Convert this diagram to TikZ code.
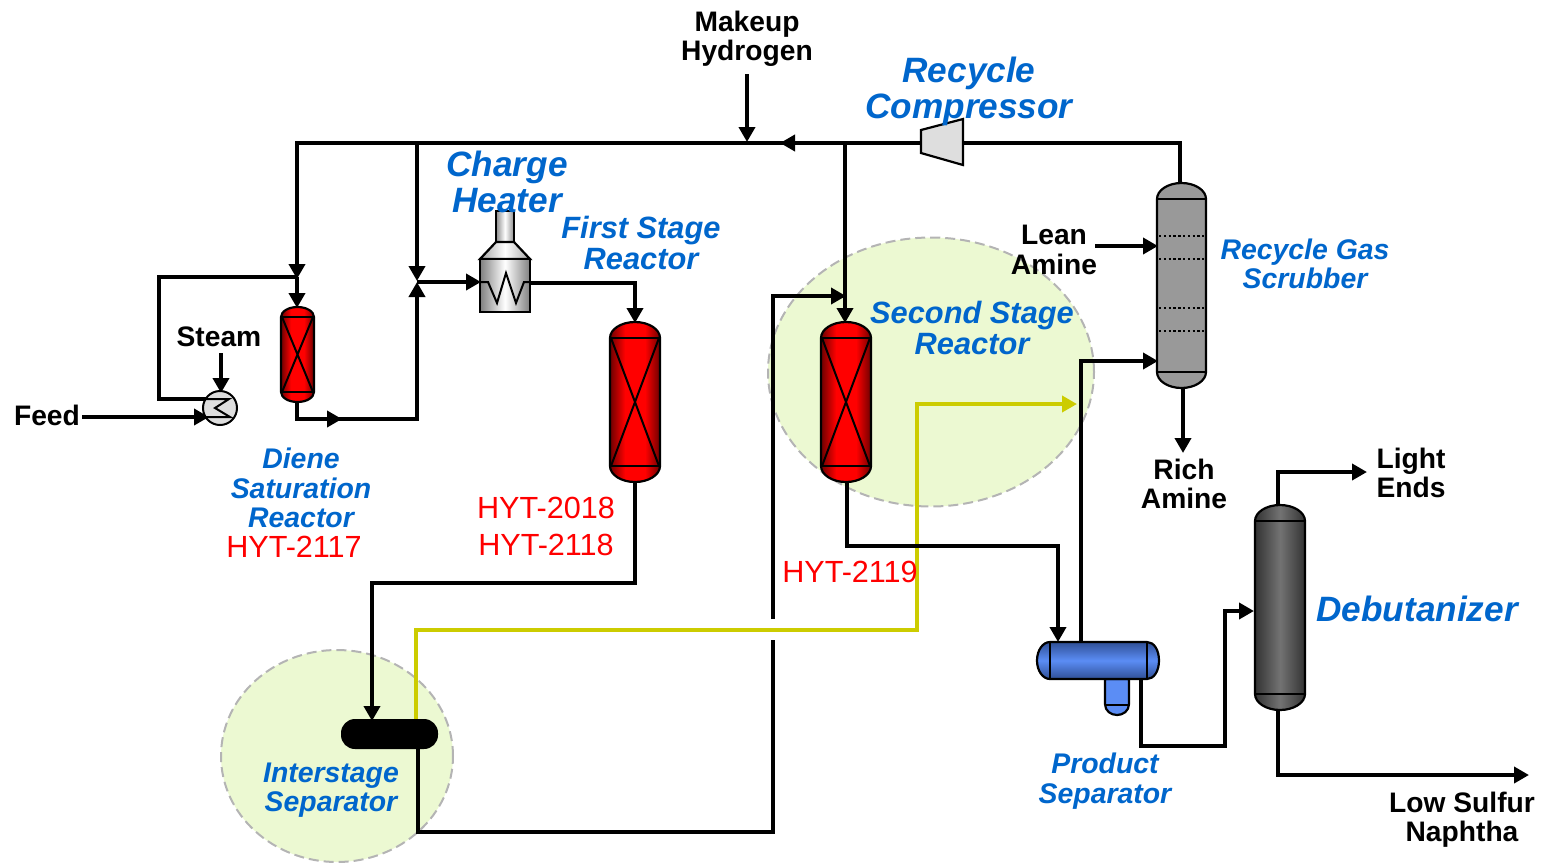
\documentclass[tikz,border=0pt]{standalone}
\usepackage{fontspec}
\setmainfont{Liberation Sans}
\usetikzlibrary{arrows.meta,shapes.geometric,calc}
\definecolor{blu}{HTML}{0066CC}
\definecolor{ylw}{HTML}{CCCC00}
\definecolor{grn}{HTML}{ECF9D2}
\definecolor{dash}{HTML}{B4B4B4}
\definecolor{rd}{HTML}{6E0000}
\definecolor{sb}{HTML}{5B8DF5}
\definecolor{sd}{HTML}{2F4F96}
\pgfdeclarehorizontalshading{redshade}{100bp}{color(0bp)=(rd);color(25bp)=(rd);color(40bp)=(red);color(60bp)=(red);color(75bp)=(rd);color(100bp)=(rd)}
\pgfdeclarehorizontalshading{darkshade}{100bp}{color(0bp)=(black!80);color(25bp)=(black!80);color(50bp)=(black!55);color(75bp)=(black!80);color(100bp)=(black!80)}
\pgfdeclarehorizontalshading{greyshade}{100bp}{color(0bp)=(black!40);color(100bp)=(black!40)}
\tikzset{
  pipe/.style={line width=2.45pt,line join=miter,draw=black},
  yline/.style={line width=2.45pt,draw=ylw},
  tip/.style={-{Triangle[length=7.5pt,width=8pt]}},
  ves/.style={line width=1.1pt,draw=black},
  inner/.style={line width=1pt,draw=black},
  blob/.style={ellipse,fill=grn,draw=dash,line width=1pt,dash pattern=on 5pt off 2.5pt,inner sep=0pt},
  ghost/.style={inner sep=0pt,outer sep=0pt,minimum width=0pt,minimum height=0pt},
  lab/.style={align=center,inner sep=0pt,font=\fontsize{14.1}{14.6}\selectfont\bfseries},
  blab/.style={align=center,inner sep=0pt,text=blu,font=\fontsize{14.2}{14.8}\selectfont\bfseries\itshape},
  blabm/.style={align=center,inner sep=0pt,text=blu,font=\fontsize{15.4}{15.1}\selectfont\bfseries\itshape},
  blabb/.style={align=center,inner sep=0pt,text=blu,font=\fontsize{17.6}{18}\selectfont\bfseries\itshape},
  rlab/.style={inner sep=0pt,text=red,font=\fontsize{15.3}{18}\selectfont},
}
% #1 name, #2 x1, #3 x2, #4 y1, #5 y2, #6 cap depth, #7 shading
\newcommand{\vvessel}[7]{%
  \pgfmathsetmacro{\cxx}{(#2+#3)/2}\pgfmathsetmacro{\hw}{(#3-#2)/2}
  \pgfmathsetmacro{\ya}{#4+#6}\pgfmathsetmacro{\yb}{#5-#6}
  \pgfmathsetmacro{\ka}{#4+0.45*#6}\pgfmathsetmacro{\kb}{#5-0.45*#6}
  \pgfmathsetmacro{\xa}{#2+0.45*\hw}\pgfmathsetmacro{\xb}{#3-0.45*\hw}
  \draw[ves,shading=#7]
    (#2,\ya) .. controls (#2,\ka) and (\xa,#4) .. (\cxx,#4)
    .. controls (\xb,#4) and (#3,\ka) .. (#3,\ya) -- (#3,\yb)
    .. controls (#3,\kb) and (\xb,#5) .. (\cxx,#5)
    .. controls (\xa,#5) and (#2,\kb) .. (#2,\yb) -- cycle;
  \draw[inner] (#2,\ya) -- (#3,\ya) (#2,\yb) -- (#3,\yb);
  \path (#2,#4) coordinate (#1-nw) (#3,#5) coordinate (#1-se)
        (\cxx,#4) coordinate (#1-n) (\cxx,#5) coordinate (#1-s);
}
% bed cross of a reactor
\newcommand{\bedx}[4]{\draw[inner] (#1,#3) -- (#2,#4) (#2,#3) -- (#1,#4);}
\begin{document}
\begin{tikzpicture}[x=0.5pt,y=-0.5pt]
\useasboundingbox (0,0) rectangle (1543,863);

% highlight zones
\node[blob,minimum width=163pt,minimum height=134.5pt] (zone2) at (931,372) {};
\node[blob,minimum width=116pt,minimum height=106pt] (zone1) at (337,756) {};

% junctions and ports
\coordinate (jLeft) at (297,143);
\coordinate (jMid) at (417,143);
\coordinate (jMk) at (747,143);
\coordinate (jBr) at (845,143);
\coordinate (jMixA) at (297,277);
\coordinate (jMixB) at (417,282);
\coordinate (mkTop) at (747,74);
\coordinate (stTop) at (221,353);
\coordinate (dianeOut) at (297,402);
\coordinate (compL) at (921,143);
\coordinate (compR) at (963,143);

% yellow line
\coordinate (yS) at (416,720);
\coordinate (yE) at (1077,404);
\draw[yline,tip] (yS) |- (917,630) |- (yE);

% black pipes
\draw[pipe] (compL) -- (jLeft) -- (297,270);
\draw[pipe,tip] (795,143) -- (780,143);
\draw[pipe,tip] (297,260) -- (297,279);
\draw[pipe,tip] (jMid) -- (417,281);
\draw[pipe,tip] (mkTop) -- (747,142);
\draw[pipe,line width=2pt,tip] (jBr) -- (845,323);
\draw[pipe] (compR) -- (1180,143) -- (1180,184);
\draw[pipe] (206,399) -- (159,399) -- (159,277) -- (jMixA);
\draw[pipe,tip] (jMixA) -- (297,308);
\coordinate (feedE) at (82,417);
\draw[pipe,tip] (feedE) -- (209,417);
\draw[pipe,tip] (stTop) -- (221,393);
\draw[pipe,tip] (dianeOut) |- (417,419) -- (417,282);
\draw[pipe,tip] (320,419) -- (342,419);
\draw[pipe,tip] (jMixB) -- (481,282);
\draw[pipe,tip] (530,283) -- (635,283) -- (635,323);
\draw[pipe,tip] (635,482) -- (635,583) -- (372,583) -- (372,721);
\draw[pipe] (418,748) -- (418,832) -- (773,832) -- (773,640);
\draw[pipe,tip] (773,619) -- (773,296) -- (846,296);
\draw[pipe,tip] (847,482) -- (847,546) -- (1058,546) -- (1058,642);
\draw[pipe,tip] (1081,643) -- (1081,361) -- (1158,361);
\coordinate (leanE) at (1095,246);
\draw[pipe,tip] (leanE) -- (1158,246);
\draw[pipe,tip] (1183,388) -- (1183,453);
\draw[pipe,tip] (1141,679) -- (1141,746) -- (1225,746) -- (1225,611) -- (1254,611);
\draw[pipe,tip] (1278,505) -- (1278,472) -- (1367,472);
\draw[pipe,tip] (1278,710) -- (1278,775) -- (1529,775);

% reactors
\vvessel{dsr}{281}{314}{307}{402}{10}{redshade}
\bedx{282}{313}{317}{392}
\vvessel{fsr}{610}{660}{322}{482}{16}{redshade}
\bedx{611}{659}{338}{466}
\vvessel{ssr}{821}{871}{322}{482}{16}{redshade}
\bedx{822}{870}{338}{466}

% scrubber
\vvessel{scr}{1157}{1206}{183}{388}{16}{greyshade}
\foreach \yy in {235.5,258.5,308,331}{
  \draw[line width=1pt,dash pattern=on 1.2pt off 1.2pt] (1159,\yy) -- (1204,\yy);
}
% debutanizer
\vvessel{deb}{1255}{1305}{505}{710}{16}{darkshade}

% product separator
\draw[ves,left color=sb,right color=sb,middle color=sb]
  (1105,679) -- (1105,704) .. controls (1105,711) and (1111,715) .. (1117,715)
  .. controls (1123,715) and (1129,711) .. (1129,704) -- (1129,679) -- cycle;
\draw[inner] (1105,705) -- (1129,705);
\path[top color=sd,bottom color=sd,middle color=sb]
  (1050,642) -- (1147,642) .. controls (1154,642) and (1159,650) .. (1159,660.5)
  .. controls (1159,671) and (1154,679) .. (1147,679) -- (1050,679)
  .. controls (1043,679) and (1037,671) .. (1037,660.5)
  .. controls (1037,650) and (1043,642) .. (1050,642) -- cycle;
\draw[ves]
  (1050,642) -- (1147,642) .. controls (1154,642) and (1159,650) .. (1159,660.5)
  .. controls (1159,671) and (1154,679) .. (1147,679) -- (1050,679)
  .. controls (1043,679) and (1037,671) .. (1037,660.5)
  .. controls (1037,650) and (1043,642) .. (1050,642) -- cycle;
\draw[inner] (1050,642) -- (1050,679) (1147,642) -- (1147,679);

% interstage separator
\node[ghost] (isep) at (389.5,734) {};
\fill[black,rounded corners=7pt] (341,719) rectangle (438,749);

% heat exchanger
\node[circle,draw=black,fill=black!13,line width=1pt,minimum width=17pt,inner sep=0pt] (hx) at (220,408) {};
\draw[inner] (205,399) -- (229,399) -- (215,408) -- (230,417) -- (206,417);

% charge heater
\draw[ves,left color=black!45,right color=black!45,middle color=white]
  (496,211) rectangle (514,242);
\draw[ves,left color=black!35,right color=black!35,middle color=white]
  (496,242) -- (514,242) -- (530,259) -- (480,259) -- cycle;
\draw[ves,left color=black!50,right color=black!50,middle color=white]
  (480,259) rectangle (530,312);
\draw[inner] (480,282) -- (488,282) -- (497,303) -- (506,273) -- (516,303) -- (524,282) -- (530,282);

% compressor
\node[ghost] (comp) at (942,142) {};
\draw[ves,fill=black!13] (921,130) -- (963,119) -- (963,165) -- (921,153) -- cycle;

% labels
\node[lab] (tMk) at (747,39) {Makeup\\Hydrogen};
\node[blabb] (tRc) at (969,91) {Recycle\\Compressor};
\node[blabb] (tCh) at (507,182) {Charge\\Heater};
\node[blabm] (tFs) at (641,243) {First Stage\\Reactor};
\node[lab] (tSt) at (219,337) {Steam};
\node[lab] (tFd) at (47,415) {Feed};
\node[blab] (tDs) at (301,488) {Diene\\Saturation\\Reactor};
\node[rlab] (tH7) at (294,547) {HYT-2117};
\node[rlab] (tH8) at (546,508) {HYT-2018};
\node[rlab] (tH18) at (546,545) {HYT-2118};
\node[rlab] (tH9) at (850,572) {HYT-2119};
\node[blabm] (tSs) at (972,328) {Second Stage\\Reactor};
\node[lab] (tLa) at (1054,250) {Lean\\Amine};
\node[blab] (tRg) at (1305,264) {Recycle Gas\\Scrubber};
\node[lab] (tRa) at (1184,484) {Rich\\Amine};
\node[lab] (tLe) at (1411,473) {Light\\Ends};
\node[blabb] (tDb) at (1417,609) {Debutanizer};
\node[lab] (tLs) at (1462,820) {Low Sulfur\\Naphtha};
\node[blab] (tPs) at (1105,781) {Product\\Separator};
\node[blab] (tIs) at (331,790) {Interstage\\Separator};
\end{tikzpicture}
\end{document}
